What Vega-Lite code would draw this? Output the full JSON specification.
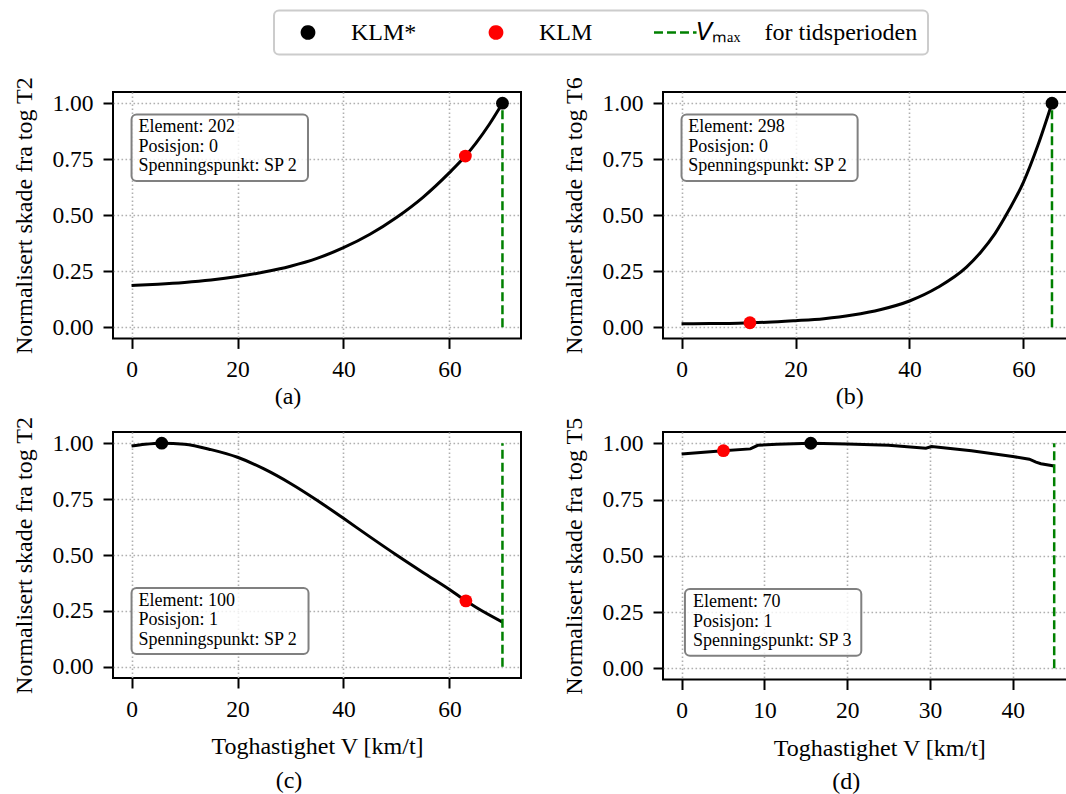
{
  "$schema": "https://vega.github.io/schema/vega-lite/v6.json",
  "background": "white",
  "padding": {"left": 11, "top": 9, "right": 0, "bottom": 0},
  "columns": 2,
  "bounds": "flush",
  "align": "each",
  "spacing": {"row": 93, "column": 142},
  "resolve": {"scale": {"x": "independent", "y": "independent", "color": "shared"}},
  "config": {
    "font": "Liberation Serif",
    "view": {"stroke": "#000000", "strokeWidth": 2},
    "style": {
      "guide-label": {"font": "Liberation Serif", "fontSize": 23.5, "fill": "#000000"},
      "guide-title": {"font": "Liberation Serif", "fontSize": 24, "fill": "#000000", "fontWeight": "normal"}
    },
    "axis": {
      "domain": false, "grid": true, "gridColor": "#b0b0b0", "gridDash": [1.6, 2.4], "gridWidth": 1.6, "gridOpacity": 1,
      "ticks": true, "tickColor": "#000000", "tickWidth": 2, "tickSize": 10,
      "labelFont": "Liberation Serif", "labelFontSize": 23.5, "labelColor": "#000000", "labelPadding": 9,
      "labelFlush": false, "labelOverlap": false,
      "titleFont": "Liberation Serif", "titleFontSize": 24, "titleFontWeight": "normal", "titleColor": "#000000"
    },
    "axisY": {"titlePadding": 15, "labelPadding": 10},
    "axisX": {"titlePadding": 14},
    "legend": {"labelFont": "Liberation Serif", "labelFontSize": 24, "labelColor": "#000000"},
    "title": {"orient": "bottom", "anchor": "middle", "frame": "group", "font": "Liberation Serif", "fontSize": 24, "fontWeight": "normal", "color": "#000000", "offset": 4}
  },
  "datasets": {
    "curves": [
      {"panel": "a", "v": 0, "d": 0.186}, {"panel": "a", "v": 5, "d": 0.192}, {"panel": "a", "v": 10, "d": 0.2}, {"panel": "a", "v": 15, "d": 0.211},
      {"panel": "a", "v": 20, "d": 0.226}, {"panel": "a", "v": 25, "d": 0.246}, {"panel": "a", "v": 30, "d": 0.272}, {"panel": "a", "v": 35, "d": 0.307},
      {"panel": "a", "v": 40, "d": 0.355}, {"panel": "a", "v": 45, "d": 0.415}, {"panel": "a", "v": 50, "d": 0.49}, {"panel": "a", "v": 55, "d": 0.58},
      {"panel": "a", "v": 60, "d": 0.69}, {"panel": "a", "v": 63, "d": 0.764}, {"panel": "a", "v": 65, "d": 0.822}, {"panel": "a", "v": 67.5, "d": 0.905},
      {"panel": "a", "v": 70, "d": 1.0},
      {"panel": "b", "v": 0, "d": 0.015}, {"panel": "b", "v": 5, "d": 0.016}, {"panel": "b", "v": 10, "d": 0.018}, {"panel": "b", "v": 12, "d": 0.02},
      {"panel": "b", "v": 15, "d": 0.022}, {"panel": "b", "v": 20, "d": 0.029}, {"panel": "b", "v": 25, "d": 0.038}, {"panel": "b", "v": 30, "d": 0.054},
      {"panel": "b", "v": 35, "d": 0.079}, {"panel": "b", "v": 40, "d": 0.117}, {"panel": "b", "v": 45, "d": 0.178}, {"panel": "b", "v": 50, "d": 0.268},
      {"panel": "b", "v": 52.5, "d": 0.335}, {"panel": "b", "v": 55, "d": 0.418}, {"panel": "b", "v": 57.5, "d": 0.525}, {"panel": "b", "v": 60, "d": 0.648},
      {"panel": "b", "v": 62.5, "d": 0.81}, {"panel": "b", "v": 65, "d": 1.0},
      {"panel": "c", "v": 0, "d": 0.987}, {"panel": "c", "v": 2.5, "d": 0.995}, {"panel": "c", "v": 5.7, "d": 1.0}, {"panel": "c", "v": 10, "d": 0.995},
      {"panel": "c", "v": 15, "d": 0.971}, {"panel": "c", "v": 20, "d": 0.937}, {"panel": "c", "v": 25, "d": 0.885}, {"panel": "c", "v": 30, "d": 0.82},
      {"panel": "c", "v": 35, "d": 0.745}, {"panel": "c", "v": 40, "d": 0.664}, {"panel": "c", "v": 45, "d": 0.581}, {"panel": "c", "v": 50, "d": 0.5},
      {"panel": "c", "v": 55, "d": 0.422}, {"panel": "c", "v": 60, "d": 0.346}, {"panel": "c", "v": 63.1, "d": 0.295}, {"panel": "c", "v": 65, "d": 0.266},
      {"panel": "c", "v": 70, "d": 0.2},
      {"panel": "d", "v": 0, "d": 0.952}, {"panel": "d", "v": 5, "d": 0.967}, {"panel": "d", "v": 8.3, "d": 0.975}, {"panel": "d", "v": 9.2, "d": 0.991},
      {"panel": "d", "v": 11.5, "d": 0.996}, {"panel": "d", "v": 15.6, "d": 1.0}, {"panel": "d", "v": 20, "d": 0.997}, {"panel": "d", "v": 25, "d": 0.991},
      {"panel": "d", "v": 29.5, "d": 0.978}, {"panel": "d", "v": 30.2, "d": 0.985}, {"panel": "d", "v": 35, "d": 0.967}, {"panel": "d", "v": 40, "d": 0.941},
      {"panel": "d", "v": 42, "d": 0.929}, {"panel": "d", "v": 42.8, "d": 0.916}, {"panel": "d", "v": 43.4, "d": 0.909}, {"panel": "d", "v": 45, "d": 0.899}
    ],
    "points": [
      {"panel": "a", "v": 70, "d": 1.0, "series": "KLM*"}, {"panel": "a", "v": 63, "d": 0.764, "series": "KLM"},
      {"panel": "b", "v": 65, "d": 1.0, "series": "KLM*"}, {"panel": "b", "v": 12, "d": 0.02, "series": "KLM"},
      {"panel": "c", "v": 5.7, "d": 1.0, "series": "KLM*"}, {"panel": "c", "v": 63.1, "d": 0.295, "series": "KLM"},
      {"panel": "d", "v": 15.6, "d": 1.0, "series": "KLM*"}, {"panel": "d", "v": 5.05, "d": 0.967, "series": "KLM"}
    ],
    "vmax": [
      {"panel": "a", "v": 70, "d": 0, "d2": 1, "series": "Vmax"}, {"panel": "b", "v": 65, "d": 0, "d2": 1, "series": "Vmax"},
      {"panel": "c", "v": 70, "d": 0, "d2": 1, "series": "Vmax"}, {"panel": "d", "v": 45, "d": 0, "d2": 1, "series": "Vmax"}
    ],
    "boxes": [
      {"panel": "a", "v": 0, "v2": 33.3, "d": 0.653, "d2": 0.95},
      {"panel": "b", "v": 0, "v2": 30.9, "d": 0.653, "d2": 0.95},
      {"panel": "c", "v": 0, "v2": 33.4, "d": 0.057, "d2": 0.352},
      {"panel": "d", "v": 0.4, "v2": 21.7, "d": 0.056, "d2": 0.352}
    ],
    "notes": [
      {"panel": "a", "v": 1.3, "d": 0.893, "text": "Element: 202"}, {"panel": "a", "v": 1.3, "d": 0.806, "text": "Posisjon: 0"}, {"panel": "a", "v": 1.3, "d": 0.719, "text": "Spenningspunkt: SP 2"},
      {"panel": "b", "v": 1.2, "d": 0.893, "text": "Element: 298"}, {"panel": "b", "v": 1.2, "d": 0.806, "text": "Posisjon: 0"}, {"panel": "b", "v": 1.2, "d": 0.719, "text": "Spenningspunkt: SP 2"},
      {"panel": "c", "v": 1.3, "d": 0.294, "text": "Element: 100"}, {"panel": "c", "v": 1.3, "d": 0.208, "text": "Posisjon: 1"}, {"panel": "c", "v": 1.3, "d": 0.122, "text": "Spenningspunkt: SP 2"},
      {"panel": "d", "v": 1.38, "d": 0.293, "text": "Element: 70"}, {"panel": "d", "v": 1.38, "d": 0.207, "text": "Posisjon: 1"}, {"panel": "d", "v": 1.38, "d": 0.121, "text": "Spenningspunkt: SP 3"}
    ]
  },
  "concat": [
    {
      "width": 408, "height": 246.4,
      "title": {"text": "(a)", "dx": -29},
      "encoding": {
        "x": {"field": "v", "type": "quantitative", "scale": {"domain": [-3.5, 73.5], "nice": false, "zero": false},
              "axis": {"values": [0, 20, 40, 60], "title": null, "encoding": {"labels": {"font": {"value": "Liberation Serif"}, "fontSize": {"value": 23.5}}}}},
        "y": {"field": "d", "type": "quantitative", "scale": {"domain": [-0.05, 1.05], "nice": false, "zero": false},
              "axis": {"values": [0, 0.25, 0.5, 0.75, 1], "format": ".2f", "title": "Normalisert skade fra tog T2", "encoding": {"labels": {"font": {"value": "Liberation Serif"}, "fontSize": {"value": 23.5}}}}}
      },
      "layer": [
        {"data": {"name": "curves"}, "transform": [{"filter": "datum.panel === 'a'"}], "mark": {"type": "line", "color": "#000000", "strokeWidth": 3, "interpolate": "monotone"}},
        {"data": {"name": "vmax"}, "transform": [{"filter": "datum.panel === 'a'"}], "mark": {"type": "rule", "strokeDash": [9, 4], "strokeWidth": 2.5},
         "encoding": {"y2": {"field": "d2"}, "color": {"field": "series", "type": "nominal", "scale": {"domain": ["KLM*", "KLM", "Vmax"], "range": ["#000000", "#ff0000", "#008000"]}}}},
        {"data": {"name": "points"}, "transform": [{"filter": "datum.panel === 'a'"}], "mark": {"type": "point", "filled": true, "size": 165, "opacity": 1},
         "encoding": {"color": {"field": "series", "type": "nominal", "scale": {"domain": ["KLM*", "KLM", "Vmax"], "range": ["#000000", "#ff0000", "#008000"]},
           "legend": {
             "orient": "none", "legendX": 161, "legendY": -81.5, "direction": "horizontal", "title": null,
             "labelFont": "Liberation Serif", "labelFontSize": 24, "labelColor": "#000000", "labelLimit": 500,
             "symbolSize": 150, "symbolOffset": 12, "labelOffset": 31, "columnPadding": 55,
             "padding": 10, "strokeColor": "#cccccc", "fillColor": "#ffffff", "cornerRadius": 5,
             "labelExpr": "datum.value === 'Vmax' ? '𝘝ₘₐₓ\u2003for tidsperioden' : datum.value",
             "encoding": {
               "legend": {"strokeWidth": {"value": 2}},
               "labels": {"font": {"value": "Liberation Serif"}, "dx": {"condition": {"test": "datum.value === 'Vmax'", "value": -46}, "value": 0}},
               "symbols": {
                 "shape": {"condition": {"test": "datum.value === 'Vmax'", "value": "M-7.35,0L-0.4,0"}, "value": "circle"},
                 "fill": {"condition": [{"test": "datum.value === 'Vmax'", "value": "transparent"}, {"test": "datum.value === 'KLM'", "value": "#ff0000"}], "value": "#000000"},
                 "stroke": {"condition": {"test": "datum.value === 'Vmax'", "value": "#008000"}, "value": "transparent"},
                 "strokeDash": {"condition": {"test": "datum.value === 'Vmax'", "value": [9, 4]}, "value": [1, 0]},
                 "strokeWidth": {"value": 2.5},
                 "opacity": {"value": 1}
               }
             }
           }}}},
        {"data": {"name": "boxes"}, "transform": [{"filter": "datum.panel === 'a'"}], "mark": {"type": "rect", "fill": "#ffffff", "fillOpacity": 0.8, "stroke": "#808080", "strokeWidth": 2, "cornerRadius": 5},
         "encoding": {"x2": {"field": "v2"}, "y2": {"field": "d2"}}},
        {"data": {"name": "notes"}, "transform": [{"filter": "datum.panel === 'a'"}], "mark": {"type": "text", "align": "left", "baseline": "middle", "fontSize": 18, "font": "Liberation Serif", "color": "#000000"},
         "encoding": {"text": {"field": "text"}}}
      ]
    },
    {
      "width": 407.5, "height": 246.4,
      "title": {"text": "(b)", "dx": -17},
      "encoding": {
        "x": {"field": "v", "type": "quantitative", "scale": {"domain": [-3.25, 68.25], "nice": false, "zero": false},
              "axis": {"values": [0, 20, 40, 60], "title": null, "encoding": {"labels": {"font": {"value": "Liberation Serif"}, "fontSize": {"value": 23.5}}}}},
        "y": {"field": "d", "type": "quantitative", "scale": {"domain": [-0.05, 1.05], "nice": false, "zero": false},
              "axis": {"values": [0, 0.25, 0.5, 0.75, 1], "format": ".2f", "title": "Normalisert skade fra tog T6", "encoding": {"labels": {"font": {"value": "Liberation Serif"}, "fontSize": {"value": 23.5}}}}}
      },
      "layer": [
        {"data": {"name": "curves"}, "transform": [{"filter": "datum.panel === 'b'"}], "mark": {"type": "line", "color": "#000000", "strokeWidth": 3, "interpolate": "monotone"}},
        {"data": {"name": "vmax"}, "transform": [{"filter": "datum.panel === 'b'"}], "mark": {"type": "rule", "strokeDash": [9, 4], "strokeWidth": 2.5},
         "encoding": {"y2": {"field": "d2"}, "color": {"field": "series", "type": "nominal", "scale": {"domain": ["KLM*", "KLM", "Vmax"], "range": ["#000000", "#ff0000", "#008000"]}}}},
        {"data": {"name": "points"}, "transform": [{"filter": "datum.panel === 'b'"}], "mark": {"type": "point", "filled": true, "size": 165, "opacity": 1},
         "encoding": {"color": {"field": "series", "type": "nominal", "scale": {"domain": ["KLM*", "KLM", "Vmax"], "range": ["#000000", "#ff0000", "#008000"]}}}},
        {"data": {"name": "boxes"}, "transform": [{"filter": "datum.panel === 'b'"}], "mark": {"type": "rect", "fill": "#ffffff", "fillOpacity": 0.8, "stroke": "#808080", "strokeWidth": 2, "cornerRadius": 5},
         "encoding": {"x2": {"field": "v2"}, "y2": {"field": "d2"}}},
        {"data": {"name": "notes"}, "transform": [{"filter": "datum.panel === 'b'"}], "mark": {"type": "text", "align": "left", "baseline": "middle", "fontSize": 18, "font": "Liberation Serif", "color": "#000000"},
         "encoding": {"text": {"field": "text"}}}
      ]
    },
    {
      "width": 408, "height": 246,
      "title": {"text": "(c)", "dx": -28, "offset": 10},
      "encoding": {
        "x": {"field": "v", "type": "quantitative", "scale": {"domain": [-3.5, 73.5], "nice": false, "zero": false},
              "axis": {"values": [0, 20, 40, 60], "title": "Toghastighet V [km/t]", "encoding": {"labels": {"font": {"value": "Liberation Serif"}, "fontSize": {"value": 23.5}}}}},
        "y": {"field": "d", "type": "quantitative", "scale": {"domain": [-0.05, 1.05], "nice": false, "zero": false},
              "axis": {"values": [0, 0.25, 0.5, 0.75, 1], "format": ".2f", "title": "Normalisert skade fra tog T2", "encoding": {"labels": {"font": {"value": "Liberation Serif"}, "fontSize": {"value": 23.5}}}}}
      },
      "layer": [
        {"data": {"name": "curves"}, "transform": [{"filter": "datum.panel === 'c'"}], "mark": {"type": "line", "color": "#000000", "strokeWidth": 3, "interpolate": "monotone"}},
        {"data": {"name": "vmax"}, "transform": [{"filter": "datum.panel === 'c'"}], "mark": {"type": "rule", "strokeDash": [9, 4], "strokeWidth": 2.5},
         "encoding": {"y2": {"field": "d2"}, "color": {"field": "series", "type": "nominal", "scale": {"domain": ["KLM*", "KLM", "Vmax"], "range": ["#000000", "#ff0000", "#008000"]}}}},
        {"data": {"name": "points"}, "transform": [{"filter": "datum.panel === 'c'"}], "mark": {"type": "point", "filled": true, "size": 165, "opacity": 1},
         "encoding": {"color": {"field": "series", "type": "nominal", "scale": {"domain": ["KLM*", "KLM", "Vmax"], "range": ["#000000", "#ff0000", "#008000"]}}}},
        {"data": {"name": "boxes"}, "transform": [{"filter": "datum.panel === 'c'"}], "mark": {"type": "rect", "fill": "#ffffff", "fillOpacity": 0.8, "stroke": "#808080", "strokeWidth": 2, "cornerRadius": 5},
         "encoding": {"x2": {"field": "v2"}, "y2": {"field": "d2"}}},
        {"data": {"name": "notes"}, "transform": [{"filter": "datum.panel === 'c'"}], "mark": {"type": "text", "align": "left", "baseline": "middle", "fontSize": 18, "font": "Liberation Serif", "color": "#000000"},
         "encoding": {"text": {"field": "text"}}}
      ]
    },
    {
      "width": 432.6, "height": 247.5,
      "title": {"text": "(d)", "dx": -33, "offset": 10},
      "encoding": {
        "x": {"field": "v", "type": "quantitative", "scale": {"domain": [-2.25, 50], "nice": false, "zero": false},
              "axis": {"values": [0, 10, 20, 30, 40], "title": "Toghastighet V [km/t]", "encoding": {"labels": {"font": {"value": "Liberation Serif"}, "fontSize": {"value": 23.5}}}}},
        "y": {"field": "d", "type": "quantitative", "scale": {"domain": [-0.05, 1.05], "nice": false, "zero": false},
              "axis": {"values": [0, 0.25, 0.5, 0.75, 1], "format": ".2f", "title": "Normalisert skade fra tog T5", "encoding": {"labels": {"font": {"value": "Liberation Serif"}, "fontSize": {"value": 23.5}}}}}
      },
      "layer": [
        {"data": {"name": "curves"}, "transform": [{"filter": "datum.panel === 'd'"}], "mark": {"type": "line", "color": "#000000", "strokeWidth": 3, "interpolate": "linear"}},
        {"data": {"name": "vmax"}, "transform": [{"filter": "datum.panel === 'd'"}], "mark": {"type": "rule", "strokeDash": [9, 4], "strokeWidth": 2.5},
         "encoding": {"y2": {"field": "d2"}, "color": {"field": "series", "type": "nominal", "scale": {"domain": ["KLM*", "KLM", "Vmax"], "range": ["#000000", "#ff0000", "#008000"]}}}},
        {"data": {"name": "points"}, "transform": [{"filter": "datum.panel === 'd'"}], "mark": {"type": "point", "filled": true, "size": 165, "opacity": 1},
         "encoding": {"color": {"field": "series", "type": "nominal", "scale": {"domain": ["KLM*", "KLM", "Vmax"], "range": ["#000000", "#ff0000", "#008000"]}}}},
        {"data": {"name": "boxes"}, "transform": [{"filter": "datum.panel === 'd'"}], "mark": {"type": "rect", "fill": "#ffffff", "fillOpacity": 0.8, "stroke": "#808080", "strokeWidth": 2, "cornerRadius": 5},
         "encoding": {"x2": {"field": "v2"}, "y2": {"field": "d2"}}},
        {"data": {"name": "notes"}, "transform": [{"filter": "datum.panel === 'd'"}], "mark": {"type": "text", "align": "left", "baseline": "middle", "fontSize": 18, "font": "Liberation Serif", "color": "#000000"},
         "encoding": {"text": {"field": "text"}}}
      ]
    }
  ]
}
